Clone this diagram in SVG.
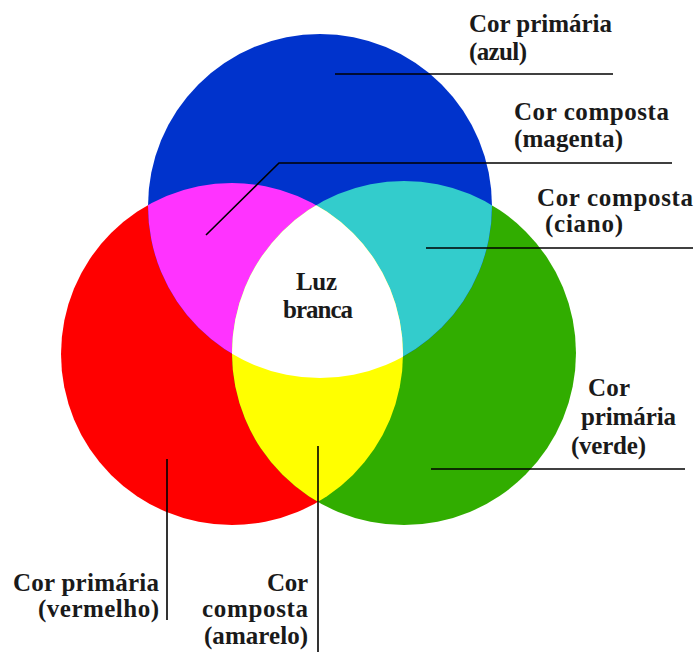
<svg xmlns="http://www.w3.org/2000/svg" width="696" height="652" viewBox="0 0 696 652">
  <style>
    .lbl { font-family: 'Liberation Serif', 'Times New Roman', serif; font-size: 25px; font-weight: bold; fill: #1a1a1a; }
    .lead { fill: none; stroke: #000; stroke-width: 1.6; }
  </style>
  <defs>
    <clipPath id="clipRed"><circle cx="232" cy="354" r="171"/></clipPath>
    <clipPath id="clipGreen"><circle cx="404" cy="353" r="172"/></clipPath>
  </defs>
  <rect width="696" height="652" fill="#ffffff"/>

  <g id="circle-red"><circle cx="232" cy="354" r="171" fill="#ff0000"/></g>
  <g id="circle-green"><circle cx="404" cy="353" r="172" fill="#31ad00"/></g>
  <g id="circle-blue"><circle cx="320" cy="206" r="172" fill="#0033cc"/></g>
  <g id="region-magenta" clip-path="url(#clipRed)"><circle cx="320" cy="206" r="172" fill="#ff33ff"/></g>
  <g id="region-cyan" clip-path="url(#clipGreen)"><circle cx="320" cy="206" r="172" fill="#33cccc"/></g>
  <g id="region-yellow" clip-path="url(#clipGreen)"><circle cx="232" cy="354" r="171" fill="#ffff00"/></g>
  <g id="region-white" clip-path="url(#clipGreen)">
    <g clip-path="url(#clipRed)"><circle cx="320" cy="206" r="172" fill="#ffffff"/></g>
  </g>

  <g id="connectors">
    <line class="lead" x1="335" y1="74" x2="613" y2="74"/>
    <polyline class="lead" points="206,235 279,163 672,163"/>
    <line class="lead" x1="426" y1="248" x2="693" y2="248"/>
    <line class="lead" x1="431" y1="469" x2="685" y2="469"/>
    <line class="lead" x1="167" y1="459" x2="167" y2="620"/>
    <line class="lead" x1="318" y1="446" x2="318" y2="652"/>
  </g>

  <g id="label-blue">
    <text class="lbl" x="469" y="32" textLength="143" lengthAdjust="spacing">Cor primária</text>
    <text class="lbl" x="469" y="60" textLength="58" lengthAdjust="spacing">(azul)</text>
  </g>
  <g id="label-magenta">
    <text class="lbl" x="514" y="120" textLength="155" lengthAdjust="spacing">Cor composta</text>
    <text class="lbl" x="514" y="147" textLength="109" lengthAdjust="spacing">(magenta)</text>
  </g>
  <g id="label-cyan">
    <text class="lbl" x="537" y="206" textLength="156" lengthAdjust="spacing">Cor composta</text>
    <text class="lbl" x="545" y="232" textLength="78" lengthAdjust="spacing">(ciano)</text>
  </g>
  <g id="label-green">
    <text class="lbl" x="588" y="396" textLength="42" lengthAdjust="spacing">Cor</text>
    <text class="lbl" x="581" y="425" textLength="95" lengthAdjust="spacing">primária</text>
    <text class="lbl" x="571" y="454" textLength="75" lengthAdjust="spacing">(verde)</text>
  </g>
  <g id="label-red">
    <text class="lbl" x="13" y="591" textLength="146" lengthAdjust="spacing">Cor primária</text>
    <text class="lbl" x="38" y="617" textLength="121" lengthAdjust="spacing">(vermelho)</text>
  </g>
  <g id="label-yellow">
    <text class="lbl" x="267" y="591" textLength="41" lengthAdjust="spacing">Cor</text>
    <text class="lbl" x="202" y="617" textLength="106" lengthAdjust="spacing">composta</text>
    <text class="lbl" x="204" y="644" textLength="104" lengthAdjust="spacing">(amarelo)</text>
  </g>
  <g id="label-white">
    <text class="lbl" x="296" y="290" textLength="41" lengthAdjust="spacing">Luz</text>
    <text class="lbl" x="283" y="318" textLength="70" lengthAdjust="spacing">branca</text>
  </g>
</svg>
